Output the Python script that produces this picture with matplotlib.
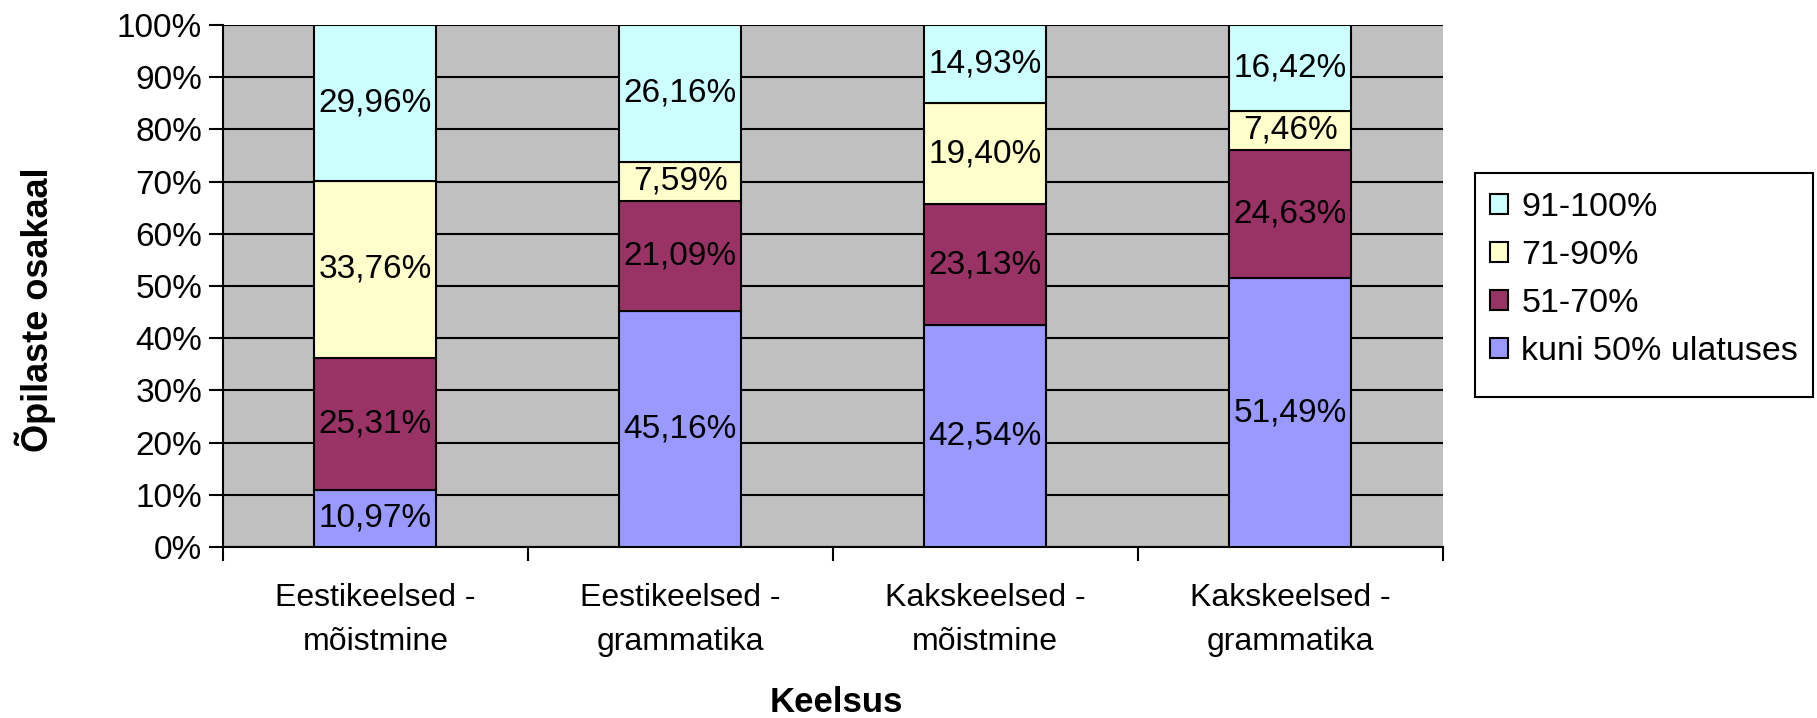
import matplotlib
matplotlib.use('Agg')
import matplotlib.pyplot as plt
from matplotlib.patches import Rectangle
import numpy as np

plt.rcParams['font.family'] = ['Liberation Sans', 'DejaVu Sans']

categories = ['Eestikeelsed -\nmõistmine', 'Eestikeelsed -\ngrammatika',
              'Kakskeelsed -\nmõistmine', 'Kakskeelsed -\ngrammatika']
series_names = ['kuni 50% ulatuses', '51-70%', '71-90%', '91-100%']
kuni50 = [10.97, 45.16, 42.54, 51.49]
p51_70 = [25.31, 21.09, 23.13, 24.63]
p71_90 = [33.76, 7.59, 19.40, 7.46]
p91_100 = [29.96, 26.16, 14.93, 16.42]
colors = ['#9999FF', '#993366', '#FFFFCC', '#CCFFFF']

FS = 24
W, H = 1817, 718

fig = plt.figure(figsize=(W / 100, H / 100), dpi=100)
ax = fig.add_axes([0.1227, 0.2382, 0.6713, 0.727])
ax.set_facecolor('#C0C0C0')

x = np.arange(len(categories))
bottom = np.zeros(len(categories))
handles = []
for name, vals, c in zip(series_names, [kuni50, p51_70, p71_90, p91_100], colors):
    vals = np.array(vals)
    bars = ax.bar(x, vals, 0.4, bottom=bottom, color=c, edgecolor='black',
                  linewidth=1.5, label=name, zorder=3)
    handles.append(bars)
    for xi, b, v in zip(x, bottom, vals):
        ax.text(xi, b + v / 2, f'{v:.2f}%'.replace('.', ','), ha='center',
                va='center', fontsize=FS, zorder=4)
    bottom += vals

ax.set_xlim(-0.5, len(categories) - 0.5)
ax.set_ylim(0, 100)
ax.set_yticks(np.arange(0, 101, 10))
ax.set_yticklabels([f'{v}%' for v in range(0, 101, 10)], fontsize=FS)
ax.yaxis.grid(True, color='black', linewidth=1.5, zorder=1)
ax.set_axisbelow(True)

# category boundaries get the tick marks, labels sit at the bar centres
ax.set_xticks(np.arange(-0.5, len(categories), 1.0))
ax.set_xticklabels([])
ax.set_xticks(x, minor=True)
ax.set_xticklabels(categories, minor=True, fontsize=23, linespacing=1.6)
ax.tick_params(axis='x', which='minor', length=0, pad=26)
ax.tick_params(axis='x', which='major', length=10, width=1.5, direction='out')
ax.tick_params(axis='y', length=10, width=1.5, direction='out', pad=5)

for side in ['top', 'right']:
    ax.spines[side].set_visible(False)
for side in ['left', 'bottom']:
    ax.spines[side].set_linewidth(1.5)

ax.set_xlabel('Keelsus', fontsize=FS + 1, fontweight='bold', va='center')
ax.xaxis.set_label_coords(0.503, -0.297)
ax.set_ylabel('Õpilaste osakaal', fontsize=FS + 2, fontweight='bold', va='center')
ax.yaxis.set_label_coords(-0.154, 0.454)

# legend box drawn separately so it can have the taller bottom padding
fig.add_artist(Rectangle((1475 / W, 1 - 397 / H), 338 / W, 224 / H,
                         transform=fig.transFigure, facecolor='white',
                         edgecolor='black', linewidth=1.5, zorder=1))
leg = fig.legend(handles[::-1], series_names[::-1], loc='upper left',
                 bbox_to_anchor=(1475 / W, 1 - 177 / H), fontsize=FS + 0.5,
                 frameon=False, handlelength=0.53, handleheight=0.53,
                 handletextpad=0.38, labelspacing=0.5, borderpad=0.45,
                 borderaxespad=0)
leg.set_zorder(2)

fig.savefig('out.png', dpi=100)
